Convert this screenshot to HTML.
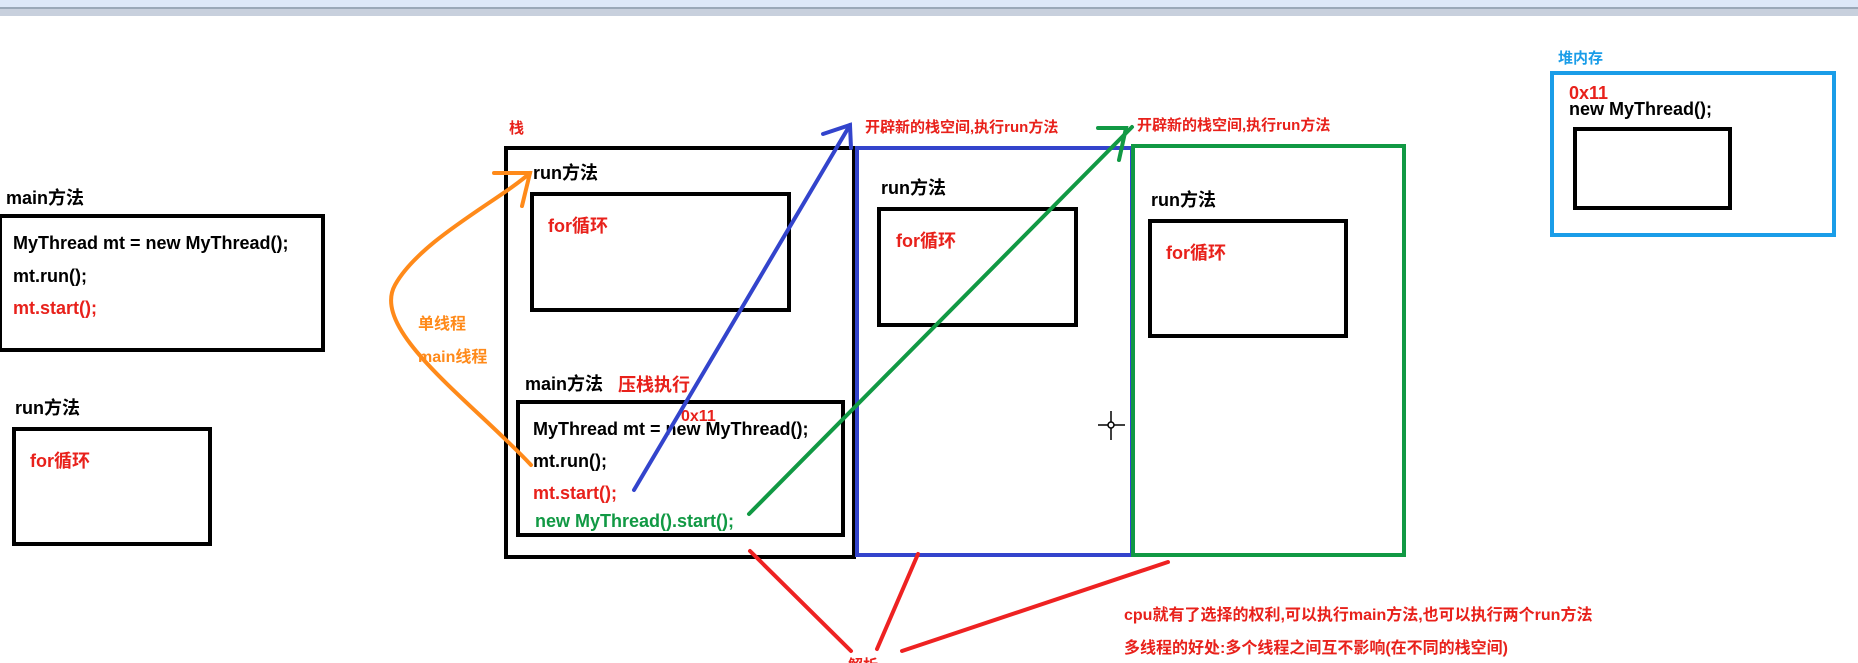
<!DOCTYPE html>
<html><head><meta charset="utf-8"><style>
html,body{margin:0;padding:0;background:#fff;}
svg{display:block;}
text{font-family:"Liberation Sans","Noto Sans CJK SC",sans-serif;font-weight:bold;}
</style></head><body>
<svg width="1858" height="663" viewBox="0 0 1858 663" xmlns="http://www.w3.org/2000/svg">
<rect x="0" y="0" width="1858" height="7" fill="#dde8f8"/>
<rect x="0" y="7" width="1858" height="2" fill="#9aa8b8"/>
<rect x="0" y="9" width="1858" height="7" fill="#c8d0dd"/>

<g fill="none" stroke-width="4">
<rect x="0" y="216" width="323" height="134" stroke="#000"/>
<rect x="14" y="429" width="196" height="115" stroke="#000"/>
<rect x="506" y="148" width="348" height="409" stroke="#000"/>
<rect x="532" y="194" width="257" height="116" stroke="#000"/>
<rect x="518" y="402" width="325" height="133" stroke="#000"/>
<rect x="857" y="148" width="275" height="407" stroke="#3344cc"/>
<rect x="879" y="209" width="197" height="116" stroke="#000"/>
<rect x="1133" y="146" width="271" height="409" stroke="#119944"/>
<rect x="1150" y="221" width="196" height="115" stroke="#000"/>
<rect x="1552" y="73" width="282" height="162" stroke="#1a9de8"/>
<rect x="1575" y="129" width="155" height="79" stroke="#000"/>
</g>

<g font-size="18">
<text x="6" y="204" fill="#000">main方法</text>
<text x="13" y="249" fill="#000">MyThread mt = new MyThread();</text>
<text x="13" y="282" fill="#000">mt.run();</text>
<text x="13" y="314" fill="#e8211b">mt.start();</text>
<text x="15" y="414" fill="#000">run方法</text>
<text x="30" y="467" fill="#e8211b">for循环</text>
<text x="509" y="133" fill="#e8211b" font-size="15">栈</text>
<text x="533" y="179" fill="#000">run方法</text>
<text x="548" y="232" fill="#e8211b">for循环</text>
<text x="525" y="390" fill="#000">main方法</text>
<text x="618" y="391" fill="#e8211b">压栈执行</text>
<text x="681" y="421" fill="#e8211b" font-size="16">0x11</text>
<text x="533" y="435" fill="#000">MyThread mt = new MyThread();</text>
<text x="533" y="467" fill="#000">mt.run();</text>
<text x="533" y="499" fill="#e8211b">mt.start();</text>
<text x="535" y="527" fill="#119944">new MyThread().start();</text>
<text x="881" y="194" fill="#000">run方法</text>
<text x="896" y="247" fill="#e8211b">for循环</text>
<text x="1151" y="206" fill="#000">run方法</text>
<text x="1166" y="259" fill="#e8211b">for循环</text>
<text x="865" y="132" fill="#e8211b" font-size="15">开辟新的栈空间,执行run方法</text>
<text x="1137" y="130" fill="#e8211b" font-size="15">开辟新的栈空间,执行run方法</text>
<text x="1558" y="63" fill="#1a9de8" font-size="15">堆内存</text>
<text x="1569" y="99" fill="#e8211b">0x11</text>
<text x="1569" y="115" fill="#000">new MyThread();</text>
<text x="418" y="329" fill="#ff8a1a" font-size="16">单线程</text>
<text x="418" y="362" fill="#ff8a1a" font-size="16">main线程</text>
<text x="1124" y="620" fill="#e8211b" font-size="16">cpu就有了选择的权利,可以执行main方法,也可以执行两个run方法</text>
<text x="1124" y="653" fill="#e8211b" font-size="16">多线程的好处:多个线程之间互不影响(在不同的栈空间)</text>
<text x="848" y="670" fill="#e8211b" font-size="15">解析</text>
</g>

<g fill="none" stroke-width="4" stroke-linecap="round">
<path d="M531,465 C470,400 370,330 395,285 C420,240 500,200 530,173" stroke="#ff8a1a"/>
<path d="M494,173 L530,173 L522,206" stroke="#ff8a1a"/>
<path d="M634,490 L850,125" stroke="#3344cc"/>
<path d="M823,134 L850,125 L851,148" stroke="#3344cc"/>
<path d="M749,514 L1132,127" stroke="#119944"/>
<path d="M1098,128 L1126,128 L1119,160" stroke="#119944"/>
<path d="M750,551 L851,651" stroke="#ee2222"/>
<path d="M918,554 L877,649" stroke="#ee2222"/>
<path d="M1168,562 L902,651" stroke="#ee2222"/>
</g>
<g stroke="#000" stroke-width="1.5" fill="none">
<line x1="1111" y1="411" x2="1111" y2="440"/>
<line x1="1098" y1="425" x2="1125" y2="425"/>
<circle cx="1111" cy="425" r="3" fill="#fff"/>
</g>
</svg>
</body></html>
